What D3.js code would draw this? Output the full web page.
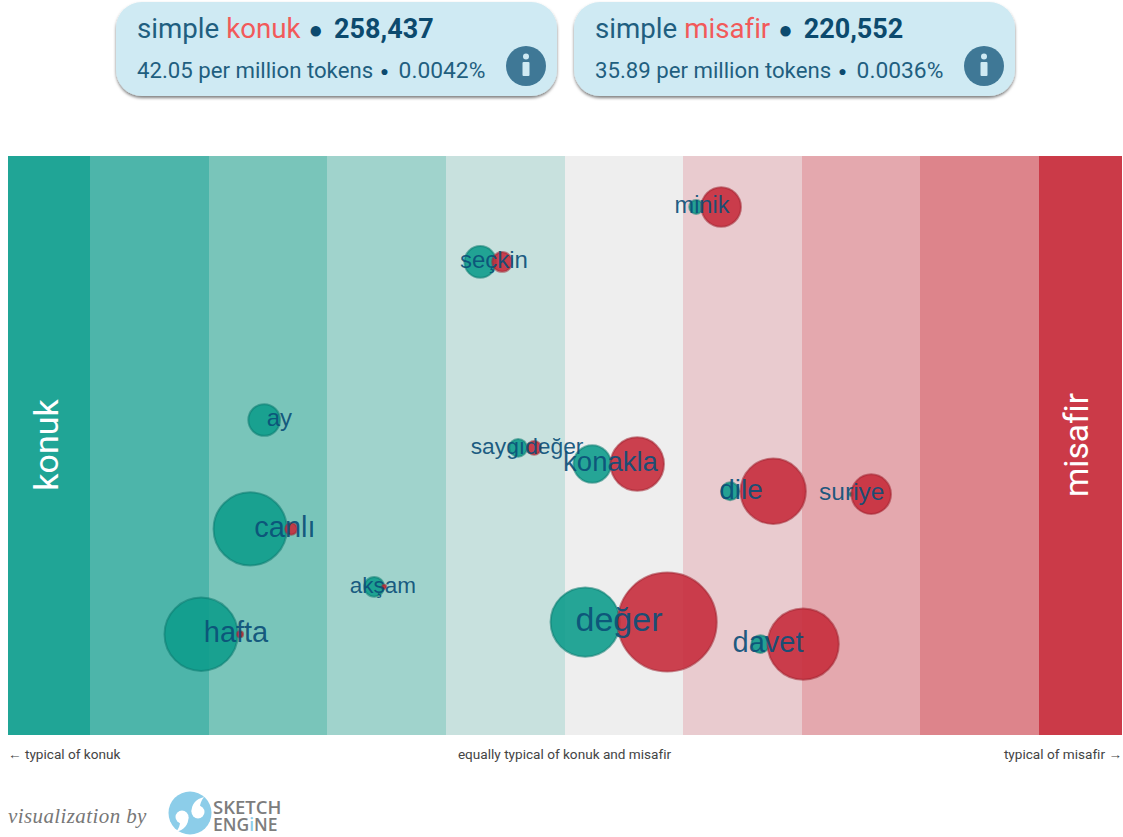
<!DOCTYPE html>
<html><head><meta charset="utf-8">
<script src="https://cdn.jsdelivr.net/npm/d3@7/dist/d3.min.js"></script>
<style>html,body{margin:0;padding:0;background:#fff;overflow:hidden}svg{display:block;font-variant-ligatures:none;font-feature-settings:"liga" 0}</style>
</head><body><div id="c"></div>
<script>
const words      = ["minik","seçkin","ay","saygıdeğer","konakla","dile","suriye","canlı","akşam","hafta","değer","davet"];
const labelScore = [1.156,-0.60,-2.41,-0.32,0.384,1.485,2.42,-2.363,-1.536,-2.776,0.456,1.713];
const tealScore  = [1.105,-0.717,-2.54,-0.397,0.228,1.392,2.414,-2.658,-1.612,-3.072,0.169,1.646];
const redScore   = [1.316,-0.532,-2.41,-0.262,0.608,1.755,2.582,-2.312,-1.527,-2.743,0.861,2.008];
const rowPos     = [91.2,81.7,54.4,49.6,46.8,42.1,41.6,35.6,25.6,17.4,19.5,15.7];
const tealFreq   = [49,256,256,81,361,81,3,1369,100,1369,1225,81];
const redFreq    = [400,100,0,49,729,1089,400,36,4,9,2500,1296];
const labelSize  = [23.5,24,24,22.8,27.5,28,24.5,29,22.5,29,34,29];
const bandEdges  = [-4.7,-4,-3,-2,-1,0,1,2,3,4,4.7];
const bandColors = ["#20a596","#4db5aa","#79c5ba","#a0d3cc","#c8e1de","#eeeeee","#e9cbcf","#e4a8ae","#dd848b","#cb3a48"];
const sides      = ["konuk","misafir"];
const sideBaseline = [58,1088];
const sideSize   = [34,33.5];
const cardCounts = ["258,437","220,552"];
const cardPerMil = ["42.05 per million tokens","35.89 per million tokens"];
const cardPct    = ["0.0042%","0.0036%"];

const svg = d3.select("#c").append("svg").attr("width",1123).attr("height",837);
const defs = svg.append("defs");
const f = defs.append("filter").attr("id","sh").attr("x","-5%").attr("y","-10%").attr("width","110%").attr("height","125%");
f.append("feDropShadow").attr("dx",0).attr("dy",2).attr("stdDeviation",1.6).attr("flood-color","#000").attr("flood-opacity",0.5);

const x = d3.scaleLinear().domain([-4.7,4.7]).range([7.5,1121.5]);
const y = d3.scaleLinear().domain([0,100]).range([735,156]);
const r = d3.scaleSqrt().domain([0,2500]).range([0,49.5]);

svg.selectAll("rect.band").data(bandColors).join("rect").attr("class","band")
  .attr("shape-rendering","crispEdges")
  .attr("x",(d,i)=>x(bandEdges[i])).attr("width",(d,i)=>x(bandEdges[i+1])-x(bandEdges[i]))
  .attr("y",y(100)).attr("height",y(0)-y(100)).attr("fill",d=>d);

const idx = words.map((w,i)=>i);
function dots(score,freq,color,stroke){
  svg.append("g").attr("transform","translate(0.7,0)").selectAll("circle").data(idx.filter(i=>freq[i]>0)).join("circle")
    .attr("cx",i=>x(score[i])).attr("cy",i=>y(rowPos[i])).attr("r",i=>r(freq[i]))
    .attr("fill",color).attr("fill-opacity",0.9).attr("stroke",stroke).attr("stroke-opacity",0.55).attr("stroke-width",2);
}
dots(tealScore,tealFreq,"#0e9c8c","#0b7a70");
dots(redScore,redFreq,"#c72c3c","#a0222f");

svg.append("g").attr("transform","translate(0.5,-1)").selectAll("text").data(idx).join("text")
  .attr("x",i=>x(labelScore[i])).attr("y",i=>y(rowPos[i])).attr("dy","0.3em")
  .attr("text-anchor","middle").attr("font-family","'Liberation Sans',Arial,sans-serif")
  .attr("font-size",i=>labelSize[i]).attr("fill","#0b4f78").attr("fill-opacity",0.92)
  .text(i=>words[i]);

// side titles
sides.forEach((t,i)=>{
  svg.append("text").attr("transform",`translate(${sideBaseline[i]},445) rotate(-90)`)
    .attr("text-anchor","middle").attr("font-family","Roboto,sans-serif").attr("font-size",sideSize[i]).attr("fill","#fff").text(t);
});

// axis captions
const cap = svg.append("g").attr("font-family","Roboto,'Liberation Sans',sans-serif").attr("font-size",13.6).attr("fill","#444");
cap.append("text").attr("x",8).attr("y",759).text("← typical of konuk");
cap.append("text").attr("x",x(0)).attr("y",759).attr("text-anchor","middle").text("equally typical of konuk and misafir");
cap.append("text").attr("x",1122).attr("y",759).attr("text-anchor","end").text("typical of misafir →");

// cards
const cardX=[116,574];
cardX.forEach((cx,i)=>{
  const g=svg.append("g").attr("transform",`translate(${cx},2)`).attr("font-family","Roboto,sans-serif");
  g.append("rect").attr("width",441).attr("height",94).attr("rx",26).attr("fill","#cfeaf3").attr("filter","url(#sh)");
  const t=g.append("text").attr("x",21).attr("y",36).attr("font-size",27.7).attr("fill","#1f5f80");
  t.append("tspan").text("simple ");
  t.append("tspan").attr("fill","#f25a5a").text(sides[i]);
  t.append("tspan").attr("font-size",24).attr("fill","#0c4a6e").attr("dx",8).text("●");
  t.append("tspan").attr("dx",11).attr("font-weight",700).attr("font-size",27).attr("fill","#0c4a6e").text(cardCounts[i]);
  const s=g.append("text").attr("x",21).attr("y",76).attr("font-size",22.2).attr("fill","#1f5f80");
  s.append("tspan").text(cardPerMil[i]);
  s.append("tspan").attr("font-size",14).attr("fill","#0c4a6e").attr("dx",7).attr("dy",-2).text("●");
  s.append("tspan").attr("dx",10).attr("dy",2).attr("font-size",22.8).text(cardPct[i]);
  g.append("circle").attr("cx",410).attr("cy",64).attr("r",20).attr("fill","#3f7896");
  g.append("circle").attr("cx",410).attr("cy",54.5).attr("r",3).attr("fill","#cfeaf3");
  g.append("rect").attr("x",406.5).attr("y",60).attr("width",7).attr("height",14).attr("rx",1).attr("fill","#cfeaf3");
});

// footer
svg.append("text").attr("x",8).attr("y",823).attr("font-family","'Liberation Serif',serif").attr("font-style","italic")
  .attr("font-size",21).attr("letter-spacing",0.4).attr("fill","#777").text("visualization by");
const lg=svg.append("g").attr("transform","translate(190,813)");
lg.append("circle").attr("r",21.5).attr("fill","#8ccde9");
const q1=lg.append("g").attr("transform","translate(-8,4)");
q1.append("circle").attr("r",6.5).attr("fill","#fff");
q1.append("path").attr("d","M6.5,0 C6.5,8 2,13 -6,15 C-3,11 -2,8 -2,5 Z").attr("fill","#fff");
const q2=lg.append("g").attr("transform","translate(8,-1)");
q2.append("circle").attr("r",6.5).attr("fill","#fff");
q2.append("path").attr("d","M-6.5,0 C-6.5,-8 -2,-13 6,-15 C3,-11 2,-8 2,-5 Z").attr("fill","#fff");
const lt=svg.append("g").attr("font-family","'Open Sans',Roboto,sans-serif").attr("font-weight",600).attr("fill","#7d7d7d");
lt.append("text").attr("x",213).attr("y",814).attr("font-size",18.5).text("SKETCH");
const e=lt.append("text").attr("x",213).attr("y",831).attr("font-size",17.5);
e.append("tspan").text("ENG");
e.append("tspan").attr("fill","#8ccde9").text("i");
e.append("tspan").text("NE");
</script></body></html>
